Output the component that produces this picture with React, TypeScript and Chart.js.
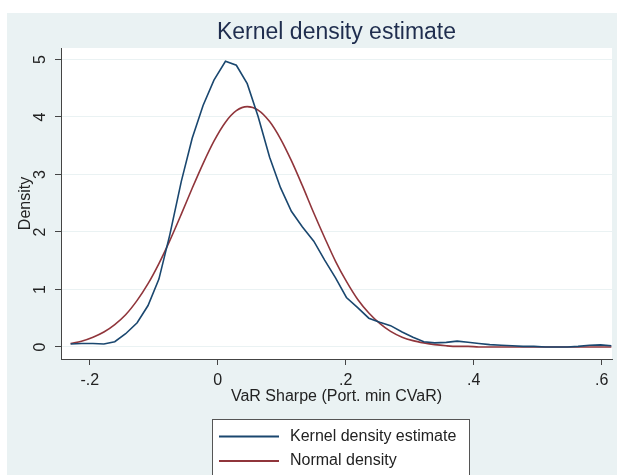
import { useEffect, useRef } from "react";
import { Chart, registerables } from "chart.js";

Chart.register(...registerables);

const FONT = '"Liberation Sans", Arial, Helvetica, sans-serif';

// Evaluation grid of the density estimate (VaR Sharpe values)
const gridX = [
  -0.230, -0.213, -0.195, -0.178, -0.161, -0.144, -0.126, -0.109, -0.092, -0.075,
  -0.057, -0.040, -0.023, -0.006, 0.012, 0.029, 0.046, 0.063, 0.081, 0.098,
  0.115, 0.132, 0.150, 0.167, 0.184, 0.201, 0.219, 0.236, 0.253, 0.270,
  0.288, 0.305, 0.322, 0.339, 0.357, 0.374, 0.391, 0.408, 0.425, 0.443,
  0.460, 0.477, 0.494, 0.512, 0.529, 0.546, 0.563, 0.581, 0.598, 0.615,
];

// Kernel density estimate at each grid point
const kernelDensity = [
  0.05, 0.06, 0.06, 0.05, 0.09, 0.23, 0.42, 0.72, 1.18, 1.95,
  2.88, 3.63, 4.20, 4.64, 4.97, 4.90, 4.58, 4.01, 3.30, 2.77,
  2.36, 2.09, 1.84, 1.51, 1.20, 0.86, 0.68, 0.50, 0.43, 0.37,
  0.26, 0.17, 0.09, 0.07, 0.08, 0.10, 0.08, 0.06, 0.04, 0.03,
  0.02, 0.01, 0.01, 0.00, 0.00, 0.00, 0.01, 0.03, 0.035, 0.02,
];

// Fitted normal density at each grid point
const normalDensity = [
  0.06, 0.10, 0.17, 0.26, 0.39, 0.56, 0.81, 1.10, 1.45, 1.85,
  2.31, 2.76, 3.19, 3.58, 3.91, 4.11, 4.18, 4.12, 3.92, 3.62,
  3.24, 2.81, 2.33, 1.90, 1.49, 1.14, 0.82, 0.59, 0.41, 0.27,
  0.17, 0.11, 0.07, 0.04, 0.02, 0.01, 0.01, 0.00, 0.00, 0.00,
  0.00, 0.00, 0.00, 0.00, 0.00, 0.00, 0.00, 0.00, 0.00, 0.00,
];

const xTickValues = [-0.2, 0, 0.2, 0.4, 0.6];
const xTickLabels = ["-.2", "0", ".2", ".4", ".6"];
const yTickValues = [0, 1, 2, 3, 4, 5];
const yTickLabels = ["0", "1", "2", "3", "4", "5"];

const seriesLabels = ["Kernel density estimate", "Normal density"];
const seriesColors = ["#1a476f", "#90353b"];

const BG = "#eaf2f3";
const AXIS = "#444444";
const TEXT = "#222222";

// Backdrop: outer graph region, plot region, rotated y labels and the legend box
const stataFrame = {
  id: "stataFrame",
  beforeDraw(chart: Chart) {
    const { ctx, chartArea, width, height } = chart;
    ctx.save();
    ctx.fillStyle = "#ffffff";
    ctx.fillRect(0, 0, width, height);
    ctx.fillStyle = BG;
    ctx.fillRect(7, 13, width - 7, height - 13);
    ctx.fillStyle = "#ffffff";
    ctx.fillRect(chartArea.left, chartArea.top, chartArea.right - chartArea.left, chartArea.bottom - chartArea.top);
    ctx.restore();
  },
  afterDraw(chart: Chart) {
    const { ctx } = chart;
    const yScale = chart.scales.y;
    ctx.save();
    ctx.fillStyle = TEXT;
    ctx.font = `16px ${FONT}`;
    ctx.textAlign = "center";
    ctx.textBaseline = "middle";
    yTickValues.forEach((v, i) => {
      const py = yScale.getPixelForValue(v);
      ctx.save();
      ctx.translate(41, py);
      ctx.rotate(-Math.PI / 2);
      ctx.fillText(yTickLabels[i], 0, 0);
      ctx.restore();
    });

    // legend
    const boxL = 212.5;
    const boxT = 419.5;
    const boxW = 257;
    ctx.fillStyle = "#ffffff";
    ctx.fillRect(boxL, boxT, boxW, 70);
    ctx.strokeStyle = "#555555";
    ctx.lineWidth = 1;
    ctx.strokeRect(boxL, boxT, boxW, 70);
    const rows = [436.5, 461];
    seriesLabels.forEach((label, i) => {
      ctx.strokeStyle = seriesColors[i];
      ctx.lineWidth = 1.8;
      ctx.beginPath();
      ctx.moveTo(219, rows[i]);
      ctx.lineTo(279, rows[i]);
      ctx.stroke();
      ctx.fillStyle = TEXT;
      ctx.textAlign = "left";
      ctx.textBaseline = "middle";
      ctx.font = `16px ${FONT}`;
      ctx.fillText(label, 290, rows[i]);
    });
    ctx.restore();
  },
};

export default function App() {
  const canvasRef = useRef<HTMLCanvasElement | null>(null);

  useEffect(() => {
    const canvas = canvasRef.current;
    if (!canvas) return;
    const chart = new Chart(canvas, {
      type: "line",
      data: {
        datasets: [
          {
            label: seriesLabels[0],
            data: gridX.map((x, i) => ({ x, y: kernelDensity[i] })),
            borderColor: seriesColors[0],
            borderWidth: 1.6,
            pointRadius: 0,
            tension: 0,
          },
          {
            label: seriesLabels[1],
            data: gridX.map((x, i) => ({ x, y: normalDensity[i] })),
            borderColor: seriesColors[1],
            borderWidth: 1.6,
            pointRadius: 0,
            cubicInterpolationMode: "monotone",
          },
        ],
      },
      options: {
        animation: false,
        responsive: false,
        devicePixelRatio: 1,
        layout: { padding: { left: 0, right: 5, top: 0, bottom: 0 } },
        plugins: {
          legend: { display: false },
          tooltip: { enabled: false },
          title: {
            display: true,
            text: "Kernel density estimate",
            color: "#1f2d4e",
            font: { family: FONT, size: 23, weight: "normal" },
            padding: { top: 19, bottom: 1.4 },
            fullSize: false,
          },
        },
        scales: {
          x: {
            type: "linear",
            min: -0.245,
            max: 0.616,
            afterBuildTicks: (scale: any) => {
              scale.ticks = xTickValues.map((value) => ({ value }));
            },
            afterFit: (scale: any) => {
              scale.height = 116;
            },
            ticks: {
              color: TEXT,
              font: { family: FONT, size: 16 },
              padding: 6,
              maxRotation: 0,
              callback: (value: any) => {
                const i = xTickValues.findIndex((v) => Math.abs(v - Number(value)) < 1e-9);
                return i >= 0 ? xTickLabels[i] : "";
              },
            },
            grid: {
              display: true,
              drawOnChartArea: false,
              drawTicks: true,
              tickLength: 6,
              tickColor: AXIS,
            },
            border: { display: true, color: AXIS, width: 1 },
            title: {
              display: true,
              text: "VaR Sharpe (Port. min CVaR)",
              color: TEXT,
              font: { family: FONT, size: 16 },
              padding: { top: 0, bottom: 69 },
            },
          },
          y: {
            type: "linear",
            min: -0.21,
            max: 5.2,
            afterBuildTicks: (scale: any) => {
              scale.ticks = yTickValues.map((value) => ({ value }));
            },
            afterFit: (scale: any) => {
              scale.width = 61;
            },
            ticks: { display: false },
            grid: {
              display: true,
              color: BG,
              lineWidth: 1,
              drawTicks: true,
              tickLength: 6,
              tickColor: AXIS,
            },
            border: { display: true, color: AXIS, width: 1 },
            title: {
              display: true,
              text: "Density",
              color: TEXT,
              font: { family: FONT, size: 16 },
              padding: { top: 16, bottom: 0 },
            },
          },
        },
      },
      plugins: [stataFrame],
    });
    return () => chart.destroy();
  }, []);

  return (
    <div style={{ position: "fixed", left: 0, top: 0, width: 617, height: 475 }}>
      <canvas ref={canvasRef} width={617} height={475} style={{ display: "block" }} />
    </div>
  );
}
